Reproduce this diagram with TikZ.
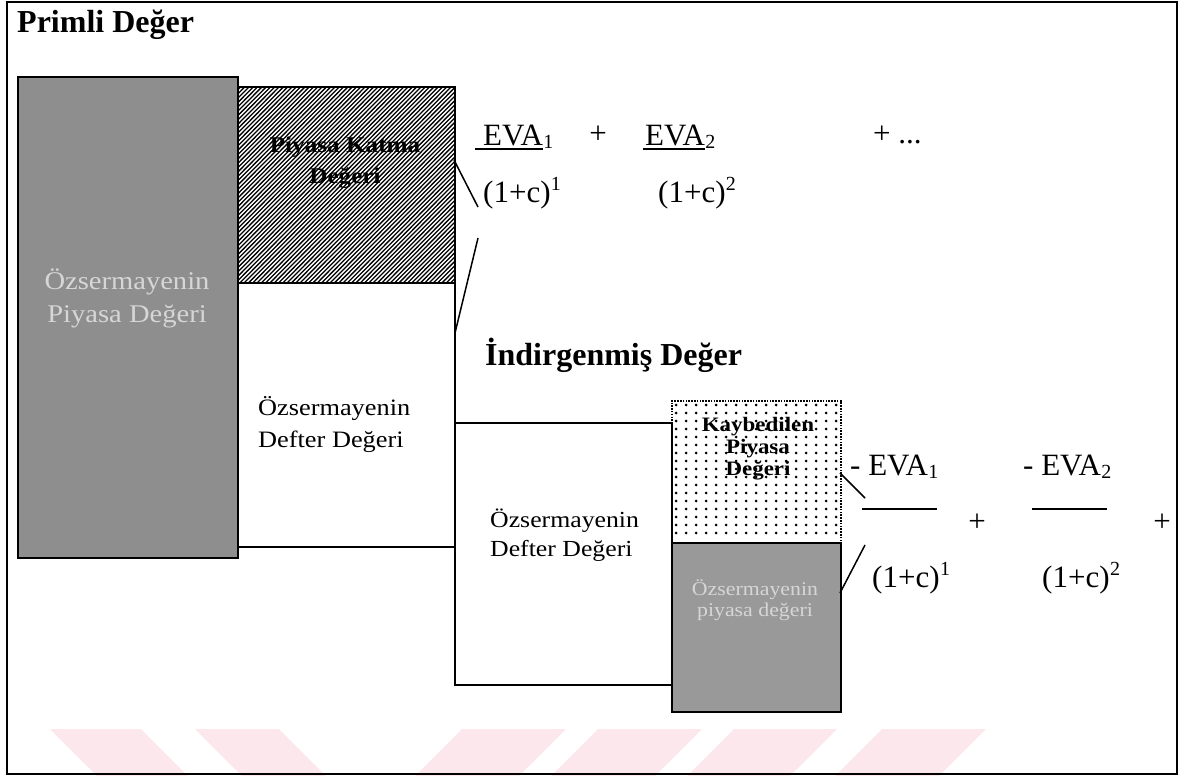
\documentclass[tikz,border=0pt]{standalone}
\usepackage{fontspec}
\setmainfont{Liberation Serif}
\newfontfamily\wide{Liberation Serif}[FakeStretch=1.12]
\definecolor{wm}{HTML}{FCE8EC}
\definecolor{boxgray}{HTML}{8E8E8E}
\definecolor{boxgrayb}{HTML}{999999}
\definecolor{embtext}{HTML}{D6D6D6}
\tikzset{
  box/.style={draw=black, line width=1.8pt, inner sep=0pt, anchor=north west},
  graytext/.style={inner sep=0pt, anchor=base, align=center, text=embtext},
  boxtext/.style={inner sep=0pt, align=left, anchor=base west},
  f/.style={inner sep=0pt, anchor=base west, font=\fontsize{31}{31}\selectfont},
  sub/.style={inner sep=0pt, anchor=base west, font=\fontsize{20}{20}\selectfont},
  heading/.style={inner sep=0pt, anchor=base west, font=\bfseries\fontsize{32}{32}\selectfont},
  conn/.style={line width=1.5pt},
  uline/.style={line width=1.4pt},
  bar/.style={line width=1.8pt}
}
\begin{document}
\begin{tikzpicture}[x=1pt,y=-1pt]
\useasboundingbox (0,0) rectangle (1183,776);
% watermark
\begin{scope}
\clip (0,0) rectangle (1183,776);
\fill[wm] (50,729) -- (141,729) -- (191,779) -- (100,779) -- cycle;
\fill[wm] (195,729) -- (279,729) -- (329,779) -- (245,779) -- cycle;
\fill[wm] (462,729) -- (566,729) -- (516,779) -- (412,779) -- cycle;
\fill[wm] (598,729) -- (702,729) -- (652,779) -- (548,779) -- cycle;
\fill[wm] (734,729) -- (837,729) -- (787,779) -- (684,779) -- cycle;
\fill[wm] (882,729) -- (986,729) -- (936,779) -- (832,779) -- cycle;
\end{scope}

% title
\node[heading] (title) at (17,33) {Primli Değer};

% white boxes
\node[box, fill=white, minimum width=217pt, minimum height=264pt] (odd1) at (237,282) {};
\node[box, fill=white, minimum width=217pt, minimum height=262pt] (odd2) at (454,422) {};

% big gray box
\node[box, fill=boxgray, minimum width=220pt, minimum height=481pt] (pmv) at (17,76) {};

% hatched box
\begin{scope}
\clip (237,86) rectangle (454,282);
\foreach \k in {0,...,97} {
  \draw[line width=1.3pt] ({41+\k*4.3},284) -- ({41+\k*4.3+198},84);
}
\end{scope}
\node[box, minimum width=217pt, minimum height=196pt] (pkd) at (237,86) {};

% dotted box
\foreach \c in {0,...,16} {
  \foreach \r in {0,...,16} {
    \fill ({676+\c*10},{405+\r*8}) circle (1.5pt);
  }
}
\node[box, dash pattern=on 1.5pt off 1.3pt, minimum width=169pt, minimum height=142pt] (kpd) at (671,400) {};

% lower gray box
\node[box, fill=boxgrayb, minimum width=169pt, minimum height=169pt] (pmv2) at (671,542) {};

% box texts (anchor = baseline of last line)
\node[graytext, font=\wide\fontsize{25.5}{33}\selectfont] (pmvt) at (127,322) {Özsermayenin\\Piyasa Değeri};
\node[inner sep=0pt, anchor=base, align=center, font=\wide\bfseries\fontsize{22.5}{31}\selectfont] (pkdt) at (345,183) {Piyasa Katma\\Değeri};
\node[boxtext, font=\wide\fontsize{23.5}{32}\selectfont] (odd1t) at (258,447) {Özsermayenin\\Defter Değeri};
\node[boxtext, font=\wide\fontsize{23}{29}\selectfont] (odd2t) at (490,556) {Özsermayenin\\Defter Değeri};
\node[inner sep=0pt, anchor=base, align=center, font=\wide\bfseries\fontsize{20.5}{22}\selectfont] (kpdt) at (758,475) {Kaybedilen\\Piyasa\\Değeri};
\node[graytext, font=\wide\fontsize{19.5}{21}\selectfont] (pmv2t) at (755,616) {Özsermayenin\\piyasa değeri};

% heading 2
\node[heading] (ind) at (485,365) {İndirgenmiş Değer};

% top formula
\node[f] (eva1) at (483,145) {EVA};
\node[sub, yshift=-3pt] (eva1s) at (eva1.base east) {1};
\draw[uline] ([xshift=-8pt,yshift=-4pt]eva1.base west) -- ([yshift=-4pt]eva1.base east);
\node[f, anchor=base] (tp1) at (598,143) {+};
\node[f] (eva2) at (645,145) {EVA};
\node[sub, yshift=-3pt] (eva2s) at (eva2.base east) {2};
\draw[uline] ([xshift=-2pt,yshift=-4pt]eva2.base west) -- ([yshift=-4pt]eva2.base east);
\node[f] (tp2) at (873,143) {+ ...};
\node[f] (den1) at (483,202) {(1+c)};
\node[sub, yshift=12pt] (den1s) at (den1.base east) {1};
\node[f] (den2) at (658,202) {(1+c)};
\node[sub, yshift=12pt] (den2s) at (den2.base east) {2};

% top connectors
\coordinate (ta) at (454,160);
\coordinate (tb) at (478,207);
\coordinate (tc) at (478,238);
\coordinate (td) at (455,333);
\draw[conn] (ta) -- (tb);
\draw[conn] (tc) -- (td);

% bottom formula
\node[f] (neva1) at (850,475) {- EVA};
\node[sub, yshift=-3pt] (neva1s) at (neva1.base east) {1};
\node[f] (neva2) at (1023,475) {- EVA};
\node[sub, yshift=-3pt] (neva2s) at (neva2.base east) {2};
\coordinate (b1l) at (862,509);
\coordinate (b1r) at (937,509);
\coordinate (b2l) at (1032,509);
\coordinate (b2r) at (1107,509);
\draw[bar] (b1l) -- (b1r);
\draw[bar] (b2l) -- (b2r);
\node[f, anchor=base] (bp1) at (977,531) {+};
\node[f, anchor=base] (bp2) at (1162,531) {+};
\node[f] (bden1) at (872,587) {(1+c)};
\node[sub, yshift=12pt] (bden1s) at (bden1.base east) {1};
\node[f] (bden2) at (1042,587) {(1+c)};
\node[sub, yshift=12pt] (bden2s) at (bden2.base east) {2};

% bottom connectors
\coordinate (ba) at (840,473);
\coordinate (bb) at (865,498);
\coordinate (bc) at (865,545);
\coordinate (bd) at (840,593);
\draw[conn] (ba) -- (bb);
\draw[conn] (bc) -- (bd);

% frame
\draw[line width=1.5pt] (7,2) rectangle (1177,774);
\end{tikzpicture}
\end{document}
